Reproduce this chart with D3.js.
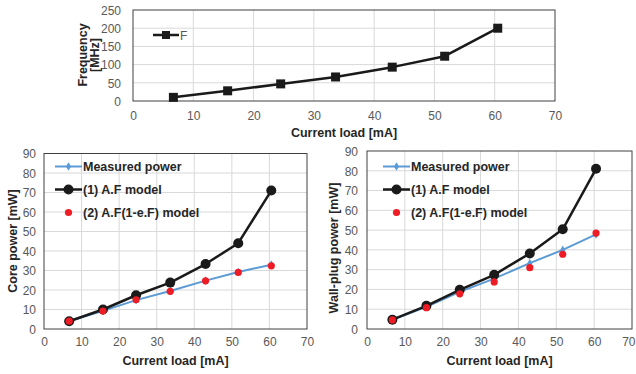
<!DOCTYPE html>
<html>
<head>
<meta charset="utf-8">
<script src="https://cdn.jsdelivr.net/npm/d3@7"></script>
<style>
  body { margin: 0; background: #fff; }
  svg { font-family: "Liberation Sans", Arial, sans-serif; }
</style>
</head>
<body>
<svg id="chart" width="636" height="374"></svg>
<script>
// Current load [mA] (shared by all panels)
const current = [6.7, 15.7, 24.5, 33.6, 43.0, 51.7, 60.5];

// Top panel: frequency
const freq = [10, 28, 47, 66, 93, 123, 200];

// Bottom-left: core power [mW]
const coreMeasured = [4, 9.3, 14.8, 19.5, 24.8, 29.2, 33];
const coreAF = [4, 10, 17.3, 23.8, 33.3, 44, 71];
const coreAF2 = [4, 9.2, 15, 19.3, 24.7, 29, 32.4];

// Bottom-right: wall-plug power [mW]
const wallMeasured = [4.6, 11.2, 18.8, 25.5, 33.3, 40, 47.8];
const wallAF = [4.7, 11.7, 19.8, 27.4, 38.2, 50.4, 81];
const wallAF2 = [4.6, 10.8, 17.8, 23.8, 31, 37.8, 48.5];

const xTicks = [0, 10, 20, 30, 40, 50, 60, 70];
const freqTicks = [0, 50, 100, 150, 200, 250];
const powerTicks = [0, 10, 20, 30, 40, 50, 60, 70, 80, 90];

const seriesNames = ["Measured power", "(1) A.F model", "(2) A.F(1-e.F) model"];

const BLUE = "#5b9bd5", BLACK = "#1a1a1a", RED = "#ee1c25";
const GRID = "#d9d9d9", TICK = "#595959", TITLE = "#262626";
const BOLD_SIZE = "12.5px";

const svg = d3.select("#chart");

function panel(box, yDomain, yTicks) {
	const x = d3.scaleLinear().domain([0, 70]).range([box.left, box.right]);
	const y = d3.scaleLinear().domain(yDomain).range([box.bottom, box.top]);
	const g = svg.append("g");

	// gridlines
	g.append("g").selectAll("line").data(xTicks.slice(1, -1)).join("line")
		.attr("x1", d => x(d)).attr("x2", d => x(d))
		.attr("y1", box.top).attr("y2", box.bottom)
		.attr("stroke", GRID).attr("stroke-width", 1);
	g.append("g").selectAll("line").data(yTicks.slice(1, -1)).join("line")
		.attr("y1", d => y(d)).attr("y2", d => y(d))
		.attr("x1", box.left).attr("x2", box.right)
		.attr("stroke", GRID).attr("stroke-width", 1);

	// tick labels via axes, without lines
	const xa = g.append("g")
		.attr("transform", `translate(0,${box.bottom + box.xLabelGap})`)
		.call(d3.axisBottom(x).tickValues(xTicks).tickSize(0).tickPadding(0));
	const ya = g.append("g")
		.attr("transform", `translate(${box.left - box.yLabelGap},0)`)
		.call(d3.axisLeft(y).tickValues(yTicks).tickSize(0).tickPadding(0));
	for (const a of [xa, ya]) {
		a.select(".domain").remove();
		a.selectAll("text").attr("fill", TICK).attr("font-size", "12px")
			.attr("font-family", "Liberation Sans, Arial, sans-serif");
	}
	ya.selectAll("text").attr("dy", "0.36em");
	// keep the last x label inside the page when the frame touches the edge
	if (box.right > 625) {
		xa.selectAll("text").filter(d => d === 70)
			.attr("text-anchor", "end").attr("x", 635 - box.right);
	}

	// plot frame
	g.append("rect")
		.attr("x", box.left).attr("y", box.top)
		.attr("width", box.right - box.left).attr("height", box.bottom - box.top)
		.attr("fill", "none").attr("stroke", "#404040").attr("stroke-width", 1);

	// x title
	g.append("text")
		.attr("x", (box.left + box.right) / 2).attr("y", box.xTitleY)
		.attr("text-anchor", "middle").attr("font-size", BOLD_SIZE).attr("font-weight", "bold")
		.attr("fill", TITLE).text("Current load [mA]");

	return {x, y, g};
}

function line(p, vals, color, width) {
	const gen = d3.line().x((d, i) => p.x(current[i])).y(d => p.y(d));
	p.g.append("path").datum(vals).attr("d", gen)
		.attr("fill", "none").attr("stroke", color).attr("stroke-width", width)
		.attr("stroke-linejoin", "round");
}

function dots(p, vals, color, r) {
	p.g.append("g").selectAll("circle").data(vals).join("circle")
		.attr("cx", (d, i) => p.x(current[i])).attr("cy", d => p.y(d))
		.attr("r", r).attr("fill", color);
}

function diamonds(p, vals, color, s) {
	p.g.append("g").selectAll("path").data(vals).join("path")
		.attr("d", d3.symbol(d3.symbolDiamond, s))
		.attr("transform", (d, i) => `translate(${p.x(current[i])},${p.y(d)})`)
		.attr("fill", color);
}

// ---- top: frequency ----
const fp = panel({left: 133, right: 555, top: 10, bottom: 101, xLabelGap: 10, yLabelGap: 12, xTitleY: 137},
	[0, 250], freqTicks);
line(fp, freq, BLACK, 2.5);
fp.g.append("g").selectAll("rect").data(freq).join("rect")
	.attr("x", (d, i) => fp.x(current[i]) - 4.5).attr("y", d => fp.y(d) - 4.5)
	.attr("width", 9).attr("height", 9).attr("fill", BLACK);
// legend
fp.g.append("line").attr("x1", 153).attr("x2", 179).attr("y1", 35).attr("y2", 35)
	.attr("stroke", BLACK).attr("stroke-width", 2.5);
fp.g.append("rect").attr("x", 162).attr("y", 31).attr("width", 8).attr("height", 8).attr("fill", BLACK);
fp.g.append("text").attr("x", 180).attr("y", 39.5).attr("font-size", "12px").attr("fill", TICK).text("F");
// y title (two lines)
const ft = fp.g.append("text").attr("transform", "translate(88,55) rotate(-90)")
	.attr("text-anchor", "middle").attr("font-size", BOLD_SIZE).attr("font-weight", "bold").attr("fill", TITLE);
ft.append("tspan").attr("x", 0).attr("dy", "-0.1em").text("Frequency");
ft.append("tspan").attr("x", 0).attr("dy", "1.0em").text("[MHz]");

// ---- bottom panels ----
function powerPanel(box, measured, af, af2, title, titleX, titleY, legX) {
	const p = panel(box, [0, 90], powerTicks);
	line(p, measured, BLUE, 2);
	diamonds(p, measured, BLUE, 22);
	line(p, af, BLACK, 2.5);
	dots(p, af, BLACK, 5);
	dots(p, af2, RED, 3.6);

	// legend
	const rows = [166.5, 189.5, 212.5];
	const lg = p.g.append("g");
	lg.append("line").attr("x1", legX).attr("x2", legX + 27).attr("y1", rows[0]).attr("y2", rows[0])
		.attr("stroke", BLUE).attr("stroke-width", 2);
	lg.append("path").attr("d", d3.symbol(d3.symbolDiamond, 22))
		.attr("transform", `translate(${legX + 13.5},${rows[0]})`).attr("fill", BLUE);
	lg.append("line").attr("x1", legX).attr("x2", legX + 27).attr("y1", rows[1]).attr("y2", rows[1])
		.attr("stroke", BLACK).attr("stroke-width", 2.5);
	lg.append("circle").attr("cx", legX + 13.5).attr("cy", rows[1]).attr("r", 5).attr("fill", BLACK);
	lg.append("circle").attr("cx", legX + 13.5).attr("cy", rows[2]).attr("r", 3.6).attr("fill", RED);
	lg.selectAll("text").data(seriesNames).join("text")
		.attr("x", legX + 28).attr("y", (d, i) => rows[i]).attr("dy", "0.36em")
		.attr("font-size", BOLD_SIZE).attr("font-weight", "bold").attr("fill", TITLE)
		.text(d => d);

	p.g.append("text").attr("transform", `translate(${titleX},${titleY}) rotate(-90)`)
		.attr("text-anchor", "middle").attr("dy", "0.36em")
		.attr("font-size", BOLD_SIZE).attr("font-weight", "bold").attr("fill", TITLE).text(title);
	return p;
}

powerPanel({left: 44, right: 307, top: 153.5, bottom: 329, xLabelGap: 8, yLabelGap: 8, xTitleY: 365},
	coreMeasured, coreAF, coreAF2, "Core power [mW]", 12, 241, 55);
powerPanel({left: 367, right: 632, top: 151, bottom: 329, xLabelGap: 8, yLabelGap: 9, xTitleY: 365},
	wallMeasured, wallAF, wallAF2, "Wall-plug power [mW]", 333, 248, 383);
</script>
</body>
</html>
